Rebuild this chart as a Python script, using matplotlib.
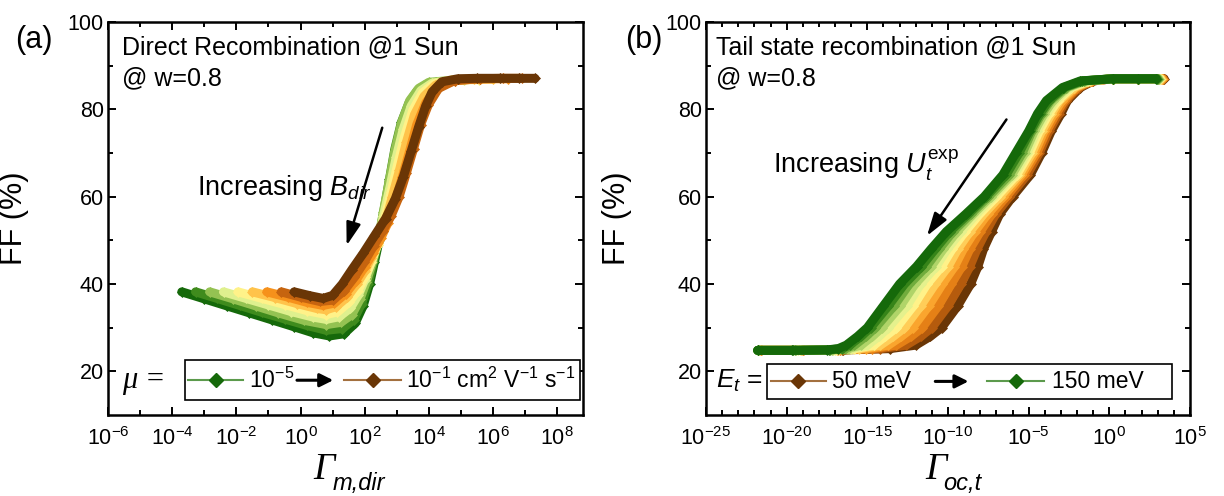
import numpy as np
import matplotlib.pyplot as plt
from matplotlib.colors import LinearSegmentedColormap
from matplotlib.patches import Rectangle
from matplotlib.ticker import FuncFormatter

plt.rcParams['font.family'] = ['Liberation Sans', 'DejaVu Sans']
plt.rcParams['mathtext.fontset'] = 'custom'
plt.rcParams['mathtext.rm'] = 'Liberation Sans'
plt.rcParams['mathtext.it'] = 'Liberation Sans:italic'

# ---- panel (a): FF vs Gamma_m,dir, one curve per mobility (1e-5 -> 1e-1 cm2/Vs)
mu_a = ['1e-5', '1e-4.5', '1e-4', '1e-3.5', '1e-3', '1e-2.5', '1e-2', '1e-1.5', '1e-1']
lg_gamma_a = [
    [-3.7, -3.0, -2.3, -1.6, -0.9, -0.2, 0.4, 0.9, 1.35, 1.7, 1.95, 2.15, 2.3, 2.45, 2.62, 2.8, 2.98, 3.18, 3.42, 3.62, 3.8],
    [-3.27, -2.6, -1.9, -1.2, -0.5, 0.2, 0.8, 1.3, 1.65, 1.9, 2.1, 2.27, 2.43, 2.6, 2.77, 2.94, 3.14, 3.38, 3.64, 3.92, 4.23],
    [-2.83, -2.1, -1.4, -0.7, 0.1, 0.8, 1.25, 1.6, 1.85, 2.05, 2.24, 2.42, 2.58, 2.76, 2.94, 3.15, 3.4, 3.68, 4.0, 4.67],
    [-2.4, -1.7, -1.0, -0.3, 0.4, 0.8, 1.2, 1.55, 1.8, 2.0, 2.2, 2.4, 2.58, 2.78, 2.98, 3.2, 3.45, 3.75, 4.1, 4.6, 5.1],
    [-1.95, -1.2, -0.5, 0.2, 0.8, 1.15, 1.5, 1.78, 2.0, 2.2, 2.4, 2.6, 2.82, 3.03, 3.25, 3.5, 3.8, 4.15, 4.7, 5.55],
    [-1.5, -0.8, -0.1, 0.5, 0.8, 1.1, 1.45, 1.75, 2.0, 2.2, 2.42, 2.64, 2.86, 3.08, 3.3, 3.55, 3.85, 4.2, 4.8, 5.4, 6.0],
    [-1.05, -0.4, 0.2, 0.7, 1.05, 1.4, 1.72, 2.0, 2.25, 2.5, 2.72, 2.95, 3.17, 3.4, 3.62, 3.9, 4.25, 4.8, 5.6, 6.45],
    [-0.6, 0.0, 0.6, 1.0, 1.35, 1.68, 1.98, 2.28, 2.56, 2.82, 3.07, 3.3, 3.52, 3.74, 3.98, 4.3, 4.8, 5.6, 6.3, 6.9],
    [-0.2, 0.3, 0.7, 1.0, 1.3, 1.6, 1.95, 2.3, 2.65, 2.95, 3.2, 3.45, 3.68, 3.9, 4.1, 4.4, 4.9, 5.5, 6.2, 6.8, 7.3],
]
ff_a = [
    [38.2, 36.6, 35.0, 33.4, 31.8, 30.2, 28.8, 28.1, 28.6, 31.0, 35.0, 40.0, 45.0, 50.0, 56.0, 63.0, 70.0, 76.0, 80.5, 83.3, 84.8],
    [38.2, 36.7, 35.1, 33.5, 32.0, 30.5, 29.4, 29.8, 31.8, 35.5, 40.0, 45.0, 50.0, 57.0, 64.0, 71.0, 77.0, 81.5, 84.3, 85.7, 86.2],
    [38.2, 36.6, 35.0, 33.4, 31.7, 30.7, 31.2, 33.0, 36.5, 40.5, 45.0, 50.0, 56.5, 63.5, 70.5, 77.0, 82.0, 84.8, 86.2, 86.6],
    [38.2, 36.7, 35.2, 33.7, 32.4, 31.9, 32.5, 34.5, 37.5, 41.0, 45.0, 49.5, 55.5, 62.0, 69.0, 75.5, 80.8, 84.3, 86.0, 86.6, 86.7],
    [38.2, 36.7, 35.3, 33.9, 33.0, 33.6, 35.8, 38.5, 41.5, 45.0, 49.0, 54.5, 61.0, 67.5, 74.0, 79.8, 83.8, 85.8, 86.7, 86.8],
    [38.2, 36.9, 35.5, 34.4, 34.1, 34.8, 37.0, 40.0, 43.0, 46.0, 49.5, 54.0, 60.0, 66.0, 72.5, 78.8, 83.0, 85.5, 86.7, 86.9, 86.9],
    [38.2, 37.0, 35.8, 35.1, 35.6, 37.8, 40.8, 44.0, 47.0, 50.5, 54.0, 59.0, 64.5, 70.5, 76.5, 81.5, 85.0, 86.6, 87.0, 87.0],
    [38.2, 37.0, 36.0, 36.3, 38.4, 41.6, 45.0, 48.8, 52.2, 55.6, 60.0, 65.5, 71.0, 76.5, 81.0, 84.8, 86.6, 87.0, 87.1, 87.1],
    [38.2, 37.3, 36.7, 37.4, 40.0, 43.3, 47.0, 51.0, 55.0, 59.5, 64.5, 70.5, 76.0, 80.8, 84.0, 86.3, 87.0, 87.1, 87.1, 87.1, 87.1],
]

# ---- panel (b): FF vs Gamma_oc,t, one curve per tail energy (50 -> 150 meV)
et_b = [50, 60, 70, 80, 90, 100, 110, 120, 130, 140, 150]
ff_b = [24.8, 24.8, 24.9, 25.2, 26.0, 28.0, 30.0, 35.0, 40.0, 44.0, 48.0, 52.0,
        56.0, 60.0, 65.0, 70.0, 75.0, 79.0, 82.0, 85.0, 86.5, 87.0, 87.0, 87.0]
lg_gamma_b = [
    [-21.6, -19.0, -16.5, -13.6, -12.0, -11.1, -10.4, -9.4, -8.6, -8.15, -7.8, -7.3, -6.8, -6.0, -4.9, -4.2, -3.6, -3.0, -2.6, -1.8, -1.0, 0.2, 1.8, 3.4],
    [-21.6, -19.0, -16.6, -14.2, -12.6, -11.7, -11.0, -10.0, -9.2, -8.65, -8.2, -7.65, -7.05, -6.2, -5.1, -4.35, -3.75, -3.15, -2.7, -1.9, -1.05, 0.2, 1.8, 3.35],
    [-21.6, -19.0, -16.7, -14.7, -13.2, -12.3, -11.6, -10.6, -9.8, -9.15, -8.65, -8.0, -7.3, -6.4, -5.3, -4.5, -3.9, -3.3, -2.8, -2.0, -1.1, 0.2, 1.8, 3.3],
    [-21.6, -19.0, -16.8, -15.1, -13.7, -12.9, -12.2, -11.2, -10.35, -9.6, -9.05, -8.35, -7.55, -6.6, -5.45, -4.65, -4.05, -3.45, -2.95, -2.1, -1.15, 0.2, 1.8, 3.25],
    [-21.7, -19.1, -16.9, -15.5, -14.2, -13.4, -12.7, -11.7, -10.8, -10.0, -9.4, -8.65, -7.8, -6.8, -5.6, -4.8, -4.2, -3.6, -3.1, -2.2, -1.2, 0.2, 1.8, 3.2],
    [-21.7, -19.2, -17.0, -15.8, -14.6, -13.9, -13.2, -12.15, -11.3, -10.4, -9.75, -8.95, -8.05, -7.0, -5.75, -4.95, -4.35, -3.75, -3.2, -2.35, -1.3, 0.2, 1.8, 3.15],
    [-21.7, -19.3, -17.1, -16.0, -15.0, -14.3, -13.7, -12.55, -11.7, -10.75, -10.05, -9.2, -8.25, -7.2, -5.9, -5.1, -4.5, -3.9, -3.35, -2.45, -1.4, 0.2, 1.8, 3.1],
    [-21.8, -19.4, -17.2, -16.2, -15.4, -14.7, -14.1, -12.95, -12.05, -11.05, -10.3, -9.45, -8.45, -7.35, -6.05, -5.25, -4.65, -4.05, -3.5, -2.6, -1.5, 0.2, 1.8, 3.05],
    [-21.8, -19.5, -17.3, -16.4, -15.8, -15.1, -14.5, -13.35, -12.4, -11.35, -10.55, -9.7, -8.6, -7.5, -6.2, -5.4, -4.8, -4.2, -3.65, -2.7, -1.6, 0.2, 1.8, 3.0],
    [-21.8, -19.6, -17.4, -16.6, -16.1, -15.4, -14.8, -13.7, -12.7, -11.65, -10.8, -9.9, -8.75, -7.65, -6.4, -5.6, -4.9, -4.3, -3.75, -2.8, -1.7, 0.2, 1.8, 2.95],
    [-21.8, -19.7, -17.5, -16.8, -16.3, -15.6, -15.0, -14.0, -13.0, -11.95, -11.05, -10.1, -8.9, -7.75, -6.6, -5.8, -5.0, -4.45, -3.9, -2.9, -1.8, 0.2, 1.8, 2.9],
]

cmap = LinearSegmentedColormap.from_list('gy', ['#15690a', '#3f8b1d', '#93c252', '#dff08e', '#fff38a',
                                                '#ffc44c', '#f7921b', '#c9650f', '#6a3606'])
green, brown = cmap(0.0), cmap(1.0)

fig = plt.figure(figsize=(12.24, 4.96), dpi=100)
ax1 = fig.add_axes([108/1224, 81/496, 475/1224, 393/496])
ax2 = fig.add_axes([706/1224, 81/496, 484/1224, 393/496])


def band(ax, x, y, c):
    ax.plot(x, y, '-', color=c, lw=6.5, solid_capstyle='round', solid_joinstyle='round')
    ax.plot(x, y, 'D', ms=5.5, color=c, mec=c, mew=0.5)


for i in range(len(mu_a)):
    band(ax1, 10.0**np.array(lg_gamma_a[i]), ff_a[i], cmap(i/(len(mu_a)-1)))

for i in range(len(et_b)):
    band(ax2, 10.0**np.array(lg_gamma_b[i]), ff_b, cmap(1 - i/(len(et_b)-1)))


def style(ax, lo, hi, step, ylab_x):
    ax.set_xscale('log')
    ax.set_xlim(10.0**lo, 10.0**hi)
    ax.set_ylim(10, 100)
    ax.set_xticks(10.0**np.arange(lo, np.floor(hi)+0.1, step))
    ax.set_xticks([10.0**k for k in range(int(lo), int(np.floor(hi))+1) if (k-lo) % step], minor=True)
    ax.xaxis.set_major_formatter(FuncFormatter(lambda v, p: r'$10^{%d}$' % round(np.log10(v))))
    ax.xaxis.set_minor_formatter(FuncFormatter(lambda v, p: ''))
    ax.set_yticks([20, 40, 60, 80, 100])
    ax.set_yticks([30, 50, 70, 90], minor=True)
    ax.tick_params(which='both', direction='in', top=True, right=True, labelsize=15.5, width=1.4)
    ax.tick_params(which='major', length=6)
    ax.tick_params(which='minor', length=3.5)
    ax.tick_params(axis='x', which='major', pad=9)
    ax.tick_params(axis='y', which='major', pad=3)
    for s in ax.spines.values():
        s.set_linewidth(1.8)
    ax.set_ylabel('FF (%)', fontsize=22)
    ax.yaxis.set_label_coords(ylab_x, 0.5)


style(ax1, -6, 8.8, 2, -0.166)
style(ax2, -25, 5, 5, -0.153)

# x labels: serif italic Gamma with sans italic subscript
for ax, sub, xg in [(ax1, 'm,dir', 0.478), (ax2, 'oc,t', 0.497)]:
    ax.text(xg, -0.162, 'Γ', transform=ax.transAxes, ha='right', va='baseline',
            fontsize=27, family='Liberation Serif', style='italic')
    ax.text(xg - 0.006, -0.19, sub, transform=ax.transAxes, ha='left', va='baseline',
            fontsize=17, style='italic')

ax1.text(-0.156, 0.954, '(a)', transform=ax1.transAxes, fontsize=22, ha='center', va='center')
ax2.text(-0.128, 0.954, '(b)', transform=ax2.transAxes, fontsize=22, ha='center', va='center')

ax1.text(0.03, 0.936, 'Direct Recombination @1 Sun', transform=ax1.transAxes, fontsize=18, va='center')
ax1.text(0.03, 0.857, '@ w=0.8', transform=ax1.transAxes, fontsize=18, va='center')
ax2.text(0.02, 0.936, 'Tail state recombination @1 Sun', transform=ax2.transAxes, fontsize=18, va='center')
ax2.text(0.02, 0.857, '@ w=0.8', transform=ax2.transAxes, fontsize=18, va='center')

arrow_kw = dict(arrowstyle='-|>,head_length=0.7,head_width=0.22', color='k', lw=1.8, mutation_scale=20)
ax1.text(0.187, 0.578, r'Increasing $B_{dir}$', transform=ax1.transAxes, fontsize=19.5, va='center')
ax1.annotate('', xy=(10**1.41, 48.2), xytext=(10**2.57, 76.4), arrowprops=arrow_kw)
ax2.text(0.138, 0.636, r'Increasing $U_t^{\mathrm{exp}}$', transform=ax2.transAxes, fontsize=19.5, va='center')
ax2.annotate('', xy=(10**-11.4, 50.5), xytext=(10**-6.28, 78.2), arrowprops=arrow_kw)


def key(ax, box, prefix, pfont, px, items, arrow):
    t = ax.transAxes
    ax.add_patch(Rectangle((box[0], box[1]), box[2]-box[0], box[3]-box[1], transform=t,
                           fill=True, fc='white', ec='k', lw=1.2, zorder=5))
    yc = (box[1] + box[3]) / 2
    ax.text(px, yc, prefix, transform=t, ha='left', va='center', zorder=6, **pfont)
    for x0, x1, xd, c, lc, label, xt in items:
        ax.plot([x0, x1], [yc, yc], '-', color=lc, lw=1.5, transform=t, zorder=6, clip_on=False)
        ax.plot([xd], [yc], 'D', ms=7, color=c, transform=t, zorder=7, clip_on=False)
        ax.text(xt, yc, label, transform=t, fontsize=16.5, ha='left', va='center', zorder=6)
    ax.annotate('', xy=(arrow[1], yc), xytext=(arrow[0], yc), xycoords=t, textcoords=t,
                arrowprops=dict(arrowstyle='-|>', color='k', lw=2.2, mutation_scale=20), zorder=7)


key(ax1, (0.162, 0.038, 0.994, 0.139), 'μ =',
    dict(fontsize=22, family='Liberation Serif', style='italic'), 0.03,
    [(0.168, 0.284, 0.227, green, '#5c9a4c', r'$10^{-5}$', 0.296),
     (0.497, 0.617, 0.557, brown, '#a3703f', r'$10^{-1}$ cm$^{2}$ V$^{-1}$ s$^{-1}$', 0.628)],
    (0.392, 0.48))
key(ax2, (0.126, 0.041, 0.963, 0.13), r'$E_t$ =', dict(fontsize=19), 0.02,
    [(0.134, 0.248, 0.19, brown, '#a3703f', '50 meV', 0.26),
     (0.581, 0.699, 0.64, green, '#5c9a4c', '150 meV', 0.714)],
    (0.468, 0.548))

fig.savefig('out.png', dpi=100)
